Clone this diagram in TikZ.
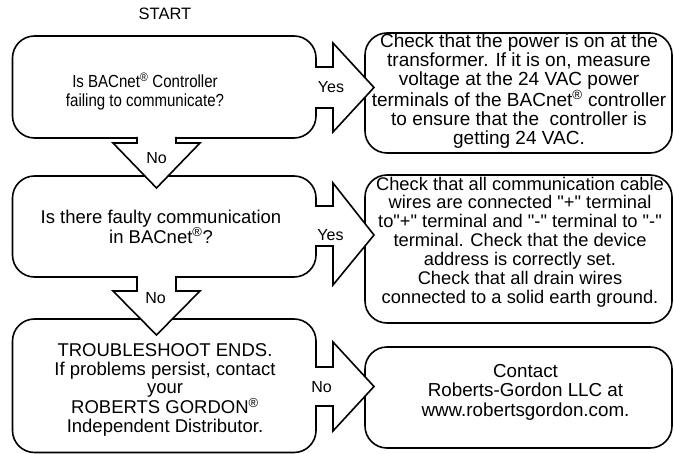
\documentclass[tikz,border=0pt]{standalone}
\usepackage{fontspec}
\setmainfont{Liberation Sans}[Ligatures=TeXOff]
\newfontfamily\narrowfont{Liberation Sans}[FakeStretch=0.86,Ligatures=TeXOff]
\newcommand{\rg}{\textsuperscript{®}}
\begin{document}
\begin{tikzpicture}[x=1pt,y=-1pt,line width=1.6pt,
  box/.style={draw,fill=white,rounded corners=22pt,inner sep=0pt},
  arr/.style={draw,fill=white,line join=miter},
  txt/.style={align=center,inner sep=0pt},
  lbl/.style={inner sep=0pt,font=\fontsize{16}{16}\selectfont}]
\useasboundingbox (0,0) rectangle (674,454);
% boxes
\node[box,minimum width=303.5pt,minimum height=102pt] (q1) at (164.25,87) {};
\node[box,minimum width=303.5pt,minimum height=101pt] (q2) at (164.25,226.5) {};
\node[box,minimum width=303.5pt,minimum height=133.5pt] (q3) at (164.25,385.75) {};
\node[box,minimum width=307pt,minimum height=120pt] (r1) at (518.5,93) {};
\node[box,minimum width=307pt,minimum height=148pt] (r2) at (518.5,249) {};
\node[box,minimum width=307pt,minimum height=101pt] (r3) at (518.5,397.5) {};
% right arrows (Yes / No)
\filldraw[arr] (315,67) -- (333,67) -- (333,43) -- (374,87.5) -- (333,132) -- (333,108) -- (315,108);
\filldraw[arr] (315,206) -- (333,206) -- (333,183) -- (374,235) -- (333,285) -- (333,246) -- (315,246);
\filldraw[arr] (315,367) -- (333,367) -- (333,342) -- (374,386.5) -- (333,431) -- (333,406) -- (315,406);
% down arrows (No)
\filldraw[arr] (137,137) -- (137,143) -- (113,143) -- (156.5,188) -- (200,143) -- (176,143) -- (176,137);
\filldraw[arr] (137,276) -- (137,291) -- (113,291) -- (156.5,335) -- (200,291) -- (176,291) -- (176,276);
% texts
\node[txt,font=\fontsize{16.5}{19}\selectfont] (start) at (165,14) {START};
\node[txt,font=\narrowfont\fontsize{17.5}{19}\selectfont] (t1) at (145,91.5) {Is BACnet\rg{} Controller\\failing to communicate?};
\node[txt,font=\fontsize{18.5}{19}\selectfont] (t2) at (161,226.5) {Is there faulty communication\\in BACnet\rg?};
\node[txt,font=\fontsize{18.5}{18.6}\selectfont] (t3) at (165,390) {TROUBLESHOOT ENDS.\\If problems persist, contact\\your\\ROBERTS GORDON\rg\\Independent Distributor.};
\node[txt,font=\fontsize{19}{19}\selectfont] (rt1) at (519,91) {Check that the power is on at the\\transformer. If it is on, measure\\voltage at the 24 VAC power\\terminals of the BACnet\rg{} controller\\to ensure that the~ controller is\\getting 24 VAC.};
\node[txt,font=\fontsize{18.3}{18.9}\selectfont] (rt2) at (520,242) {Check that all communication cable\\wires are connected "+" terminal\\to"+" terminal and "-" terminal to "-"\\terminal. Check that the device\\address is correctly set.\\Check that all drain wires\\connected to a solid earth ground.};
\node[txt,font=\fontsize{18.8}{19.5}\selectfont] (rt3) at (525.5,392) {Contact\\Roberts-Gordon LLC at\\www.robertsgordon.com.};
% labels
\node[lbl] (y1) at (331,87) {Yes};
\node[lbl] (y2) at (330.5,235) {Yes};
\node[lbl] (n3) at (321.5,387) {No};
\node[lbl] (n1) at (156.5,158) {No};
\node[lbl] (n2) at (155.5,298) {No};
\end{tikzpicture}
\end{document}
